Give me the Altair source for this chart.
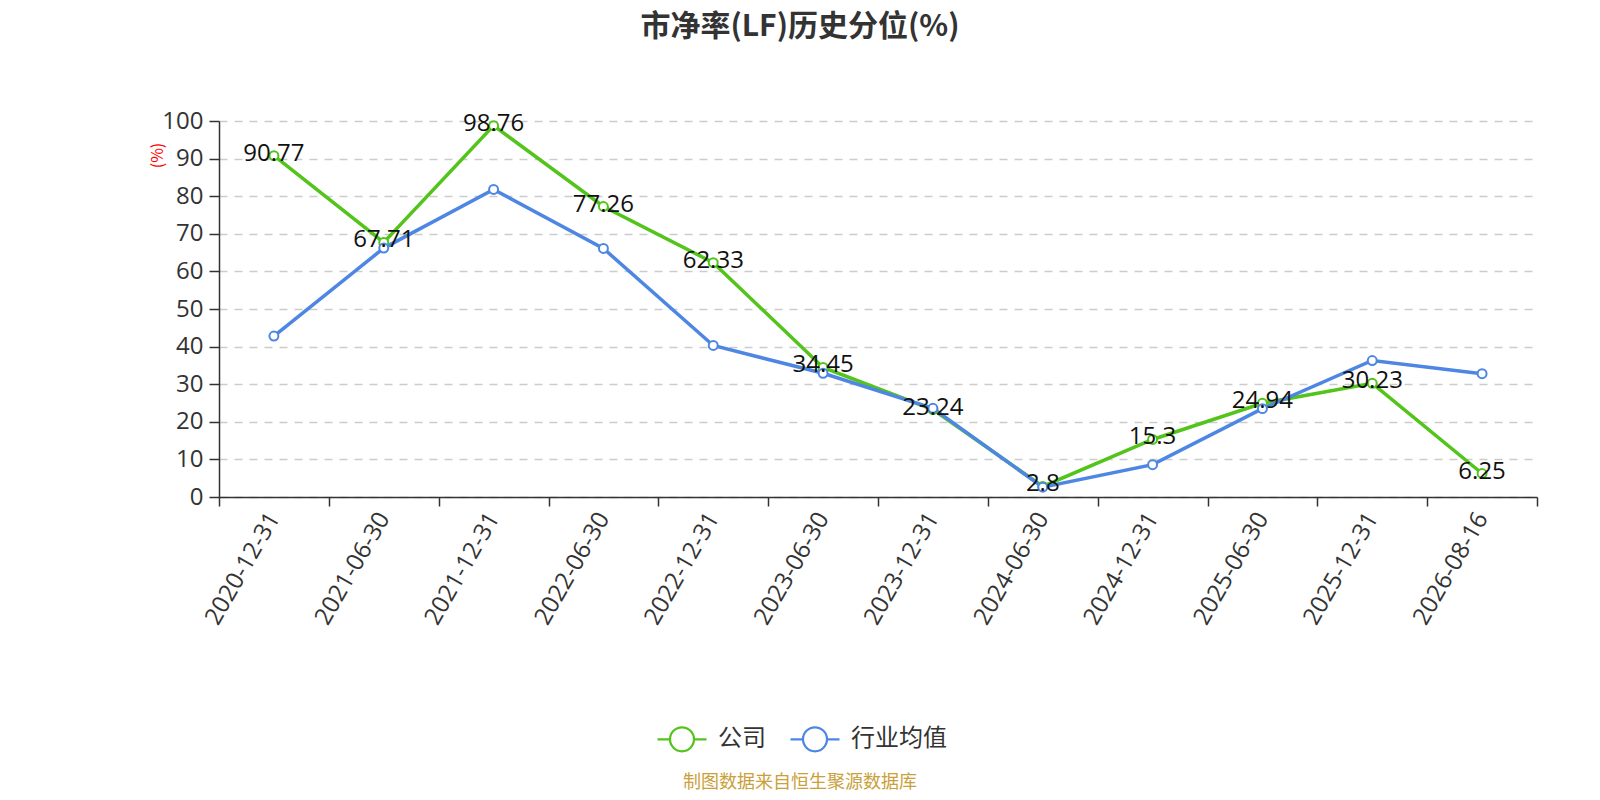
import json
import altair as alt
import pandas as pd

dates = ["2020-12-31", "2021-06-30", "2021-12-31", "2022-06-30", "2022-12-31", "2023-06-30",
         "2023-12-31", "2024-06-30", "2024-12-31", "2025-06-30", "2025-12-31", "2026-08-16"]
company = [90.77, 67.71, 98.76, 77.26, 62.33, 34.45, 23.24, 2.8, 15.3, 24.94, 30.23, 6.25]
industry = [42.8, 66.2, 81.8, 66.1, 40.3, 32.9, 23.6, 2.6, 8.6, 23.5, 36.3, 32.8]
series_names = ["公司", "行业均值"]
colors = ["#52C41A", "#4E86E3"]
y_ticks = list(range(0, 101, 10))
title_text = "市净率(LF)历史分位(%)"
source_text = "制图数据来自恒生聚源数据库"

FONT = "Noto Sans CJK SC"
NUMFONT = "Open Sans, Noto Sans CJK SC"

rows = []
for i, d in enumerate(dates):
    rows.append({"pos": i + 0.5, "date": d, "series": series_names[0], "value": company[i], "order": 0})
    rows.append({"pos": i + 0.5, "date": d, "series": series_names[1], "value": industry[i], "order": 1})
df = pd.DataFrame(rows)

label_expr = "datum.value < 12 ? " + json.dumps(dates) + "[datum.value] : ''"

legend_path = "M-1,0L-0.49,0M0.49,0L1,0M-0.49,0A0.49,0.49,0,1,1,0.49,0A0.49,0.49,0,1,1,-0.49,0"

color_enc = alt.Color(
    "series:N",
    scale=alt.Scale(domain=series_names, range=colors),
    legend=alt.Legend(
        title=None, orient="none", direction="horizontal",
        legendX=437, legendY=592,
        symbolType=legend_path, symbolSize=2400, symbolStrokeWidth=2.2,
        symbolFillColor="white",
        labelFont=FONT, labelFontSize=24, labelColor="#333",
        labelOffset=10, columnPadding=20, padding=0,
    ),
)

x_enc = alt.X(
    "pos:Q",
    scale=alt.Scale(domain=[0, 12], nice=False, zero=False),
    axis=alt.Axis(
        values=list(range(13)), labelExpr=label_expr, labelOffset=55,
        labelAngle=-60, labelAlign="right", labelBaseline="middle",
        labelFont=NUMFONT, labelFontSize=24, labelColor="#333", labelPadding=8,
        labelOverlap=False, labelFlush=False,
        tickSize=9, tickColor="#333", tickWidth=1.5,
        domainColor="#333", domainWidth=1.5, grid=False, title=None,
    ),
)

y_enc = alt.Y(
    "value:Q",
    scale=alt.Scale(domain=[0, 100], nice=False),
    axis=alt.Axis(
        values=y_ticks, labelFont=NUMFONT, labelFontSize=24, labelColor="#333", labelPadding=6,
        tickSize=10, tickColor="#333", tickWidth=1.5,
        domainColor="#333", domainWidth=1.5,
        grid=True, gridColor="#cccccc", gridDash=[8, 7], gridWidth=1.5,
        title="(%)", titleColor="red", titleFont=FONT, titleFontSize=16, titleFontWeight="normal",
        titleAngle=-90, titleX=-62, titleY=34, titleAlign="center", titleBaseline="middle",
    ),
)

base = alt.Chart(df)

lines = base.mark_line(strokeWidth=3.5).encode(
    x=x_enc, y=y_enc, color=color_enc, order="order:Q"
)
points = base.mark_point(shape="circle", filled=False, fill="white", fillOpacity=1,
                         size=80, strokeWidth=2, opacity=1).encode(
    x=x_enc, y=y_enc, color=color_enc
)
labels = base.transform_filter(alt.datum.series == series_names[0]).mark_text(
    font=NUMFONT, fontSize=24, color="#111", align="center", baseline="middle", dy=-2
).encode(x=x_enc, y=y_enc, text=alt.Text("value:Q", format="~g"))

source = alt.Chart(pd.DataFrame({"t": [source_text]})).mark_text(
    font=FONT, fontSize=18, color="#C9A03A", align="center", baseline="middle"
).encode(text="t:N", x=alt.value(581), y=alt.value(662))

chart = alt.layer(lines, points, labels, source).properties(
    width=1318, height=376,
    title=alt.TitleParams(title_text, anchor="middle", frame="group", dx=-78,
                          fontSize=30, fontWeight="bold", color="#333", font=FONT,
                          baseline="middle", offset=52),
    autosize=alt.AutoSizeParams(type="none"),
    padding={"left": 211, "top": 113, "right": 55, "bottom": 295},
    background="white",
).configure_view(stroke=None)

chart.save("out.html", embed_options={"renderer": "svg", "actions": False})
